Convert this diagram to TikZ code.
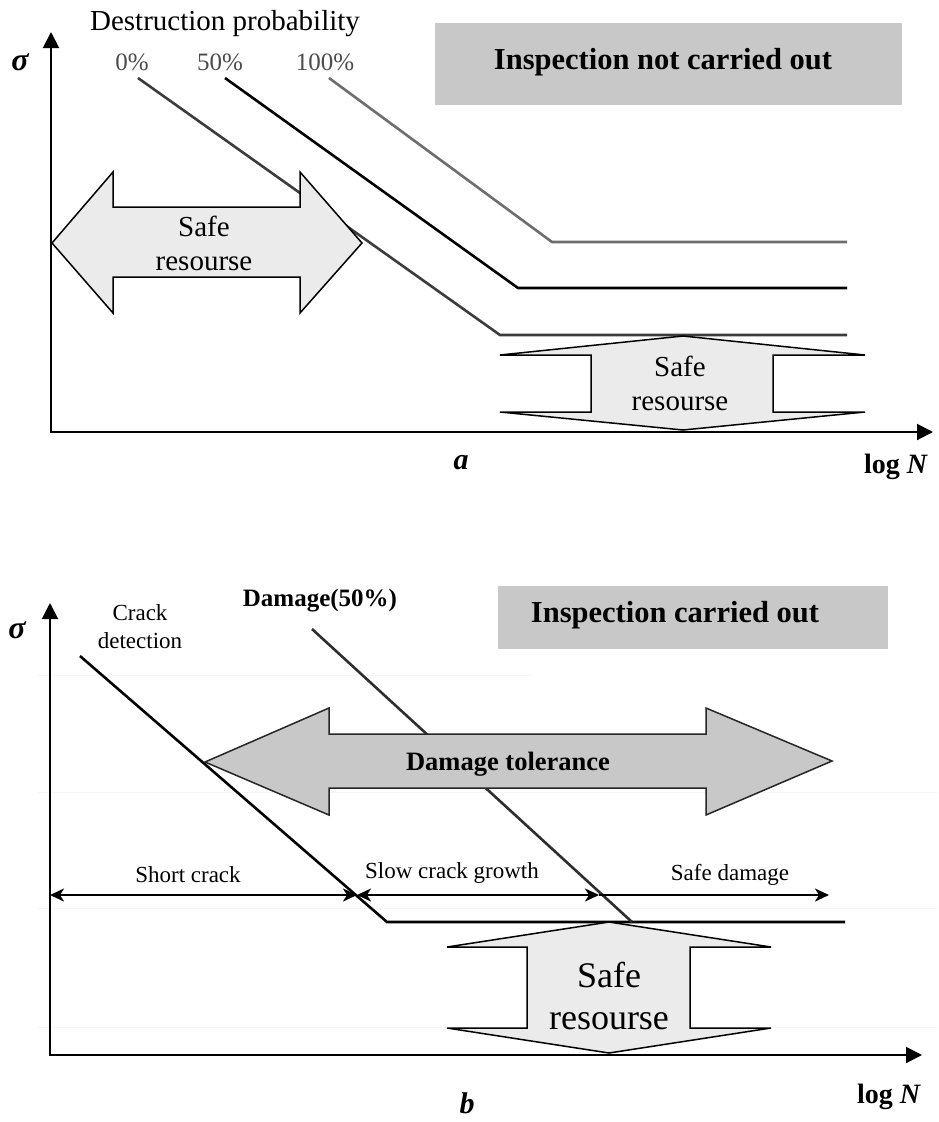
\documentclass[tikz,border=0pt]{standalone}
\usepackage{fontspec}
\setmainfont{Liberation Serif}
\usetikzlibrary{arrows.meta}
\definecolor{boxgray}{HTML}{C8C8C8}
\definecolor{lightfill}{HTML}{EBEBEB}
\definecolor{c0}{HTML}{3C3C3C}
\definecolor{c100}{HTML}{6E6E6E}
\definecolor{gridc}{HTML}{F6F6F6}
\begin{document}
\begin{tikzpicture}[x=1pt,y=-1pt,
  axisboth/.style={line width=2pt,{Triangle[length=16pt,width=16pt]}-{Triangle[length=16pt,width=16pt]}},
  curve/.style={line width=2.6pt,line join=miter},
  blockarrow/.style={draw=black,line width=1.5pt,line join=miter},
  titlebox/.style={fill=boxgray,draw=none,inner sep=0pt},
  dimboth/.style={line width=2pt,{Stealth[length=14pt,width=13pt,inset=4pt]}-{Stealth[length=14pt,width=13pt,inset=4pt]}},
  dimend/.style={line width=2pt,-{Stealth[length=14pt,width=13pt,inset=4pt]}},
  txt/.style={inner sep=0pt,align=center},
  fbig/.style={font=\fontsize{29}{34}\selectfont},
  fmid/.style={font=\fontsize{25}{28}\selectfont},
  fsmall/.style={font=\fontsize{23}{28}\selectfont},
  ftitle/.style={font=\fontsize{30.5}{34}\selectfont\bfseries},
]
\useasboundingbox (0,0) rectangle (938,1122);
\fill[white] (0,0) rectangle (938,1122);

% ================= panel a =================
\node[titlebox,minimum width=467pt,minimum height=82pt] (boxa) at (668.5,64) {};
\node[txt,ftitle] (titlea) at (663,62) {Inspection not carried out};

\node[txt,fbig] (destr) at (225,24) {Destruction probability};
\node[txt,fmid,text=black!70] (p0) at (132,62) {0\%};
\node[txt,fmid,text=black!70] (p50) at (220,62) {50\%};
\node[txt,fmid,text=black!70] (p100) at (325,62) {100\%};

\node[txt,font=\fontsize{32}{34}\selectfont\bfseries\itshape] (siga) at (20,62) {σ};

\coordinate (aY) at (51,32);
\coordinate (aO) at (51,432);
\coordinate (aX) at (933,432);
\draw[axisboth] (aY) -- (aO) -- (aX);

\coordinate (c0s) at (138,78);  \coordinate (c0k) at (500,335); \coordinate (c0e) at (847,335);
\coordinate (c5s) at (225,78);  \coordinate (c5k) at (518,288); \coordinate (c5e) at (847,288);
\coordinate (c1s) at (329,78);  \coordinate (c1k) at (552,242); \coordinate (c1e) at (847,242);
\draw[curve,draw=c0] (c0s) -- (c0k) -- (c0e);
\draw[curve,draw=black] (c5s) -- (c5k) -- (c5e);
\draw[curve,draw=c100] (c1s) -- (c1k) -- (c1e);

% horizontal double block arrow
\draw[blockarrow,fill=lightfill] (52,243) -- (113,172) -- (113,207) -- (300,207) -- (300,172)
  -- (362,243) -- (300,313) -- (300,277) -- (113,277) -- (113,313) -- cycle;
\node[txt,fbig] (safea1) at (204,243) {Safe\\resourse};

% vertical double block arrow
\draw[blockarrow,fill=lightfill] (683,336) -- (865,355) -- (773,355) -- (773,412) -- (865,412)
  -- (683,430) -- (500,412) -- (591,412) -- (591,355) -- (500,355) -- cycle;
\node[txt,fbig] (safea2) at (680,383) {Safe\\resourse};

\node[txt,font=\fontsize{28}{32}\selectfont\bfseries] (logNa) at (896,467) {log \textit{N}};
\node[txt,font=\fontsize{30}{34}\selectfont\bfseries\itshape] (laba) at (461,463) {a};

% ================= panel b =================
% faint grid lines
\draw[gridc,line width=0.8pt] (37,675) -- (532,675);
\draw[gridc,line width=0.8pt] (37,792) -- (938,792);
\draw[gridc,line width=0.8pt] (37,908) -- (938,908);
\draw[gridc,line width=0.8pt] (37,1027) -- (938,1027);

\node[titlebox,minimum width=390pt,minimum height=63pt] (boxb) at (693,617.5) {};
\node[txt,ftitle] (titleb) at (675,615) {Inspection carried out};

\node[txt,font=\fontsize{32}{34}\selectfont\bfseries\itshape] (sigb) at (17,630) {σ};
\node[txt,fsmall] (crackdet) at (140,627) {Crack\\detection};
\node[txt,font=\fontsize{25}{28}\selectfont\bfseries] (dam50) at (320,601) {Damage(50\%)};

\coordinate (bY) at (50,603);
\coordinate (bO) at (50,1055);
\coordinate (bX) at (922,1055);
\draw[axisboth] (bY) -- (bO) -- (bX);

\coordinate (ks) at (80,656); \coordinate (kk) at (387,922); \coordinate (ke) at (845,922);
\draw[curve,draw=black] (ks) -- (kk) -- (ke);
\coordinate (ds) at (312,629); \coordinate (de) at (632,922);
\draw[curve,draw=black!82] (ds) -- (de);

% damage tolerance arrow
\draw[blockarrow,draw=black!85,fill=boxgray] (205,762) -- (329,708) -- (329,734) -- (706,734) -- (706,708)
  -- (832,761) -- (706,815) -- (706,788) -- (329,788) -- (329,815) -- cycle;
\node[txt,font=\fontsize{26.5}{30}\selectfont\bfseries] (dtol) at (508,764) {Damage tolerance};

% dimension arrows
\coordinate (dL) at (50,895);
\coordinate (dA) at (357,895);
\coordinate (dB) at (599,895);
\coordinate (dC) at (829,895);
\draw[dimboth] (dL) -- (dA);
\draw[dimboth] (dA) -- (dB);
\draw[dimend] (dB) -- (dC);
\node[txt,fsmall] (shortc) at (188,875) {Short crack};
\node[txt,fsmall] (slowc) at (452,873) {Slow crack growth};
\node[txt,fsmall] (safed) at (730,875) {Safe damage};

% safe resource arrow b
\draw[blockarrow,fill=lightfill] (609,922) -- (771,947) -- (690,947) -- (690,1028) -- (771,1028)
  -- (609,1053) -- (447,1028) -- (527,1028) -- (527,947) -- (447,947) -- cycle;
\node[txt,font=\fontsize{36}{42}\selectfont] (safeb) at (609,996) {Safe\\resourse};

\node[txt,font=\fontsize{28}{32}\selectfont\bfseries] (logNb) at (889,1097) {log \textit{N}};
\node[txt,font=\fontsize{30}{34}\selectfont\bfseries\itshape] (labb) at (467,1103) {b};
\end{tikzpicture}
\end{document}
